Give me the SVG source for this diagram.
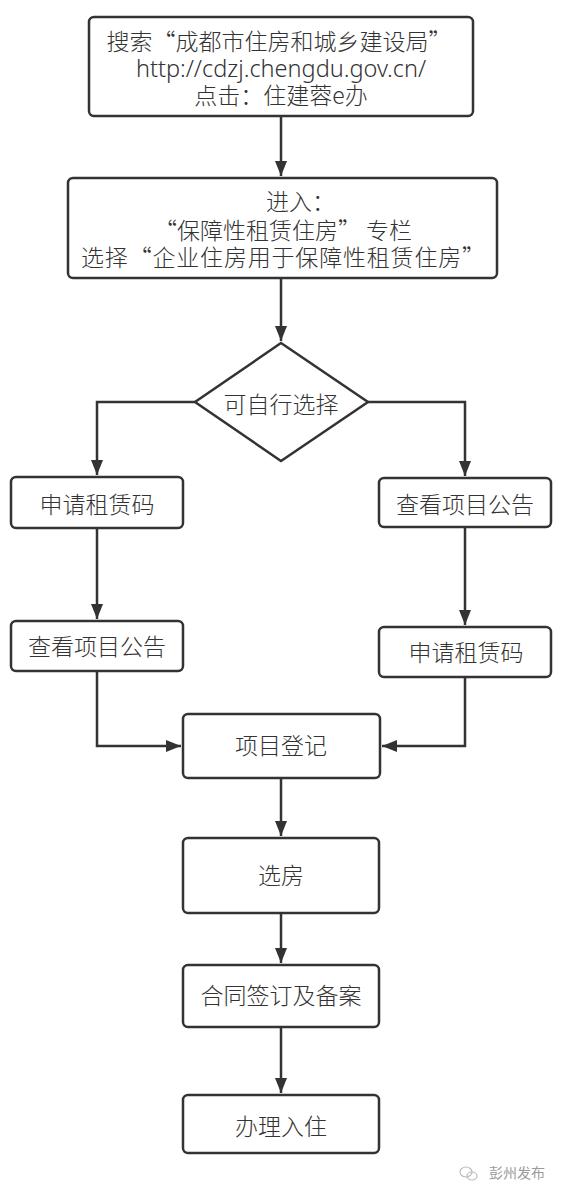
<svg xmlns="http://www.w3.org/2000/svg" width="562" height="1200" viewBox="0 0 562 1200">
<style>
.box{fill:#fff;stroke:#333;stroke-width:2.5}
.t{font-family:"Noto Sans CJK SC","Noto Sans",sans-serif;font-size:23px;font-weight:300;fill:#333}
.m{text-anchor:middle}
.c{fill:none;stroke:#333;stroke-width:2.5}
.wm{font-family:"Noto Sans CJK SC",sans-serif;font-size:14px;fill:#9a9a9a}
</style>
<defs>
<marker id="ah" markerUnits="userSpaceOnUse" markerWidth="16" markerHeight="12" refX="15" refY="6" orient="auto">
<path d="M0,0 L15,6 L0,12 z" fill="#333"/>
</marker>
</defs>
<rect width="562" height="1200" fill="#fff"/>
<g id="connectors">
<path class="c" d="M281,116 V176" marker-end="url(#ah)"/>
<path class="c" d="M281,278 V341" marker-end="url(#ah)"/>
<path class="c" d="M195,402 H97 V475" marker-end="url(#ah)"/>
<path class="c" d="M368,402 H465 V476" marker-end="url(#ah)"/>
<path class="c" d="M97,528 V619" marker-end="url(#ah)"/>
<path class="c" d="M465,527 V625" marker-end="url(#ah)"/>
<path class="c" d="M97,671 V746 H181" marker-end="url(#ah)"/>
<path class="c" d="M465,677 V746 H382" marker-end="url(#ah)"/>
<path class="c" d="M281,778 V836" marker-end="url(#ah)"/>
<path class="c" d="M281,913 V963" marker-end="url(#ah)"/>
<path class="c" d="M281,1027 V1093" marker-end="url(#ah)"/>
</g>
<g id="n1">
<rect class="box" x="89" y="17" width="384" height="99" rx="5"/>
<text class="t m" x="279" y="50">搜索“成都市住房和城乡建设局”</text>
<text class="t m" x="281" y="77" style="font-family:'Noto Sans','Noto Sans CJK SC',sans-serif;font-size:23.5px">http://cdzj.chengdu.gov.cn/</text>
<text class="t m" x="281" y="104">点击：住建蓉e办</text>
</g>
<g id="n2">
<rect class="box" x="68" y="178" width="429" height="100" rx="5"/>
<text class="t" x="266" y="210">进入：</text>
<text class="t m" x="283" y="239">“保障性租赁住房” 专栏</text>
<text class="t" x="81" y="266" textLength="404" lengthAdjust="spacing">选择“企业住房用于保障性租赁住房”</text>
</g>
<g id="n3">
<polygon class="box" points="281,343 368,402 281,461 195,402"/>
<text class="t m" x="281" y="413">可自行选择</text>
</g>
<g id="n4">
<rect class="box" x="11" y="477" width="172" height="51" rx="5"/>
<text class="t m" x="97" y="513">申请租赁码</text>
</g>
<g id="n5">
<rect class="box" x="379" y="478" width="172" height="49" rx="5"/>
<text class="t m" x="465" y="513">查看项目公告</text>
</g>
<g id="n6">
<rect class="box" x="11" y="621" width="172" height="50" rx="5"/>
<text class="t m" x="97" y="655">查看项目公告</text>
</g>
<g id="n7">
<rect class="box" x="379" y="627" width="172" height="50" rx="5"/>
<text class="t m" x="466" y="661">申请租赁码</text>
</g>
<g id="n8">
<rect class="box" x="183" y="714" width="197" height="64" rx="5"/>
<text class="t m" x="281" y="754">项目登记</text>
</g>
<g id="n9">
<rect class="box" x="183" y="838" width="196" height="75" rx="5"/>
<text class="t m" x="281" y="884">选房</text>
</g>
<g id="n10">
<rect class="box" x="183" y="965" width="196" height="62" rx="5"/>
<text class="t m" x="281" y="1004">合同签订及备案</text>
</g>
<g id="n11">
<rect class="box" x="183" y="1095" width="196" height="58" rx="5"/>
<text class="t m" x="281" y="1135">办理入住</text>
</g>
<g id="watermark">
<ellipse cx="466" cy="1172" rx="6" ry="5" fill="none" stroke="#bbb" stroke-width="1.2"/>
<ellipse cx="472" cy="1176" rx="5" ry="4" fill="none" stroke="#bbb" stroke-width="1.2"/>
<text class="wm" x="489" y="1178">彭州发布</text>
</g>
</svg>
